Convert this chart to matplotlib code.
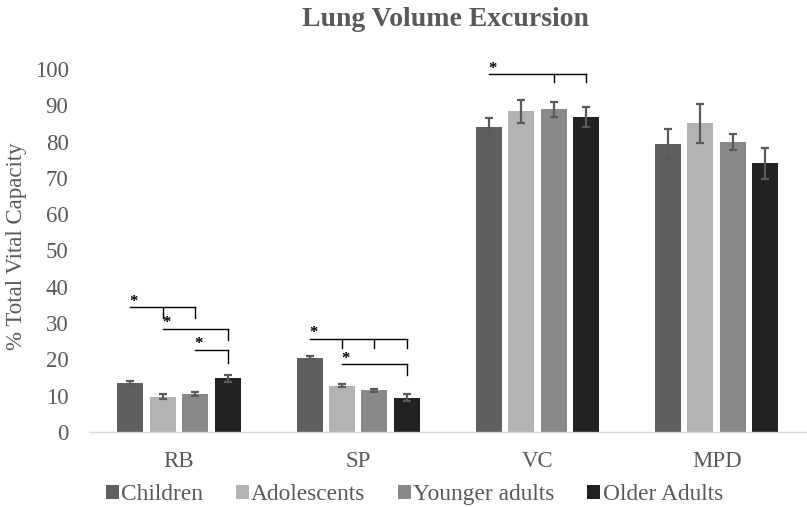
import matplotlib
matplotlib.use("Agg")
import matplotlib.pyplot as plt
import numpy as np

# Data
categories = ["RB", "SP", "VC", "MPD"]
groups = ["Children", "Adolescents", "Younger adults", "Older Adults"]
children = [13.4, 20.5, 84.1, 79.3]
adolescents = [9.7, 12.8, 88.3, 85.0]
younger_adults = [10.4, 11.5, 88.9, 79.9]
older_adults = [14.8, 9.5, 86.7, 74.0]
children_err = [0.7, 0.4, 2.4, 4.1]
adolescents_err = [0.7, 0.3, 3.2, 5.4]
younger_adults_err = [0.6, 0.4, 2.1, 2.1]
older_adults_err = [1.0, 1.0, 2.8, 4.3]

# Significance brackets: (category, start group, tick groups, line level, tick bottom)
brackets = [
    (0, 0, [1, 2], 34.3, 31.4),
    (0, 1, [3], 28.3, 25.3),
    (0, 2, [3], 22.6, 19.1),
    (1, 0, [1, 2, 3], 25.7, 23.1),
    (1, 1, [3], 18.6, 15.7),
    (2, 0, [2, 3], 98.5, 96.3),
]

series = [children, adolescents, younger_adults, older_adults]
errors = [children_err, adolescents_err, younger_adults_err, older_adults_err]
colors = ["#5f5f5f", "#b3b3b3", "#898989", "#222222"]
text_color = "#595959"

plt.rcParams["font.family"] = ["Liberation Serif", "DejaVu Serif"]

fig = plt.figure(figsize=(8.07, 5.07), dpi=100)
W, H = 807, 507
ax = fig.add_axes([89.4 / W, (H - 432) / H, (806.3 - 89.4) / W, (432 - 69) / H])

x = np.arange(len(categories))
pitch = 0.181
width = 0.145
offsets = (np.arange(4) - 1.5) * pitch

for vals, errs, col, off, name in zip(series, errors, colors, offsets, groups):
    ax.bar(x + off, vals, width=width, color=col, label=name, zorder=2,
           yerr=errs, error_kw=dict(ecolor="#5a5a5a", elinewidth=1.6,
                                    capsize=3.2, capthick=1.6, zorder=3))

# Brackets with asterisks
for cat, start, ticks, level, bottom in brackets:
    xs = cat + offsets[start]
    xe = cat + offsets[ticks[-1]]
    ax.plot([xs, xe], [level, level], color="black", lw=1.0,
            clip_on=False, zorder=4)
    for t in ticks:
        xt = cat + offsets[t]
        ax.plot([xt, xt], [level, bottom], color="black", lw=1.0,
                clip_on=False, zorder=4)
    ax.text(xs + 0.02, level + 1.6, "*", ha="center", va="center",
            fontsize=12, fontweight="bold", color="black", clip_on=False)

ax.set_xlim(-0.5, 3.5)
ax.set_ylim(0, 100)
ax.set_yticks(np.arange(0, 101, 10))
ax.set_xticks(x)
ax.set_xticklabels(categories)

for s in ["top", "right", "left"]:
    ax.spines[s].set_visible(False)
ax.spines["bottom"].set_color("#d9d9d9")
ax.spines["bottom"].set_linewidth(1.0)

ax.tick_params(axis="y", length=0, pad=15, labelsize=16.5, labelcolor=text_color)
ax.tick_params(axis="x", length=0, pad=14, labelsize=16.5, labelcolor=text_color)

fig.text(16.5 / W, 1 - 246 / H, "% Total Vital Capacity", rotation=90,
         ha="center", va="center", fontsize=16.5, color=text_color)
fig.text(445 / W, 1 - 20 / H, "Lung Volume Excursion", ha="center",
         va="center", fontsize=20, fontweight="bold", color=text_color)

leg = fig.legend(loc="center", bbox_to_anchor=(414.5 / W, 1 - 494.5 / H),
                 ncol=4, frameon=False, fontsize=16.8, handlelength=0.55,
                 handleheight=0.55, handletextpad=0.1, columnspacing=1.4,
                 borderpad=0, borderaxespad=0)
for t in leg.get_texts():
    t.set_color(text_color)

fig.savefig("out.png", dpi=100)
